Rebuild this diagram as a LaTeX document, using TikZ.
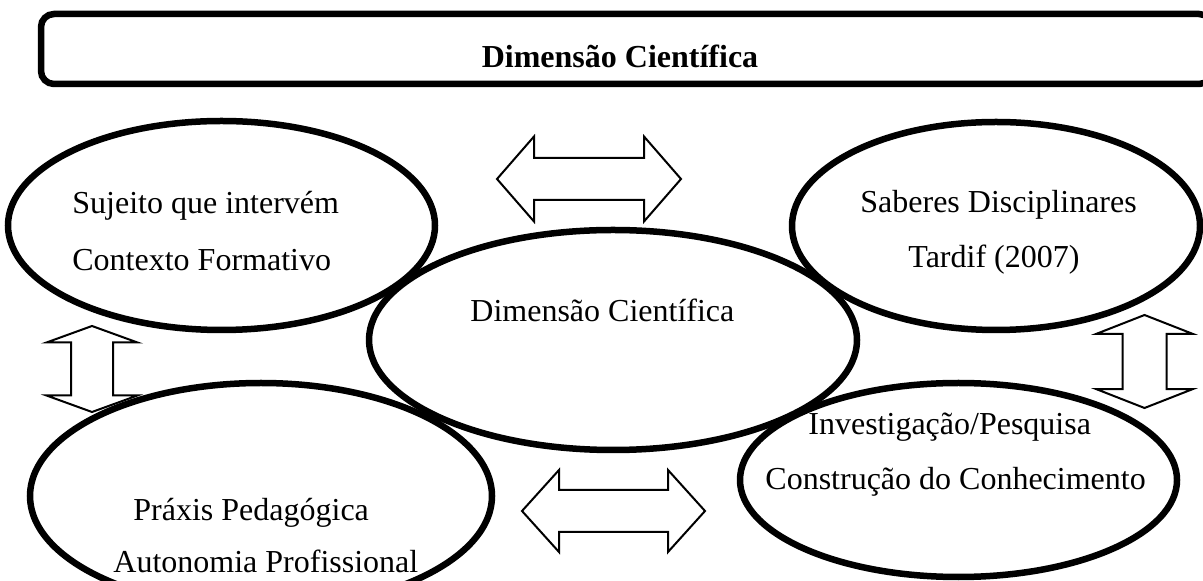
\documentclass[tikz,border=0pt]{standalone}
\usepackage{fontspec}
\setmainfont{Liberation Serif}
\usetikzlibrary{shapes.geometric}
\newdimen\px \px=0.5pt
\tikzset{
  bubble/.style={draw, ellipse, line width=6.5\px, inner sep=0pt},
  txt/.style={inner sep=0pt, anchor=base west, font=\fontsize{32\px}{38\px}\selectfont},
  headbox/.style={draw, line width=6.5\px, rounded corners=13\px},
  blockarrow/.style={draw, line width=2\px, fill=white},
  % double block arrow: total length / head length / head width / shaft width
  pics/dblarrow/.style args={#1/#2/#3/#4}{code={
    \path[blockarrow]
      ({-#1/2},0) -- ({-#1/2+#2},{-#3/2}) -- ({-#1/2+#2},{-#4/2})
      -- ({#1/2-#2},{-#4/2}) -- ({#1/2-#2},{-#3/2}) -- ({#1/2},0)
      -- ({#1/2-#2},{#3/2}) -- ({#1/2-#2},{#4/2})
      -- ({-#1/2+#2},{#4/2}) -- ({-#1/2+#2},{#3/2}) -- cycle;
  }},
}
\begin{document}
\begin{tikzpicture}[x=1\px, y=-1\px]
\useasboundingbox (0,0) rectangle (1203,581);

% heading bar
\draw[headbox] (41,14) rectangle (1212,84);
\node[inner sep=0pt, anchor=base, font=\fontsize{32\px}{38\px}\selectfont\bfseries] (title) at (620,68) {Dimensão Científica};

% ellipses
\node[bubble, minimum width=427\px, minimum height=209\px] (tl) at (221.5,225.5) {};
\node[bubble, minimum width=408\px, minimum height=208\px] (tr) at (996,226) {};
\node[bubble, minimum width=462\px, minimum height=226\px] (bl) at (261,496) {};
\node[bubble, minimum width=437\px, minimum height=194\px] (br) at (958.5,480) {};
\node[bubble, minimum width=488\px, minimum height=220\px] (c) at (613,340) {};

% texts
\node[txt] (tl1) at (72,214) {Sujeito que intervém};
\node[txt] (tl2) at (72,271) {Contexto Formativo};
\node[txt] (tr1) at (860,213) {Saberes Disciplinares};
\node[txt] (tr2) at (908,268) {Tardif (2007)};
\node[txt] (c1) at (470,322) {Dimensão Científica};
\node[txt] (br1) at (808,435) {Investigação/Pesquisa};
\node[txt] (br2) at (765,490) {Construção do Conhecimento};
\node[txt] (bl1) at (133,521) {Práxis Pedagógica};
\node[txt] (bl2) at (113,573) {Autonomia Profissional};

% block arrows
\pic at (589,179) {dblarrow={184/37/85/42}};
\pic at (613.5,511) {dblarrow={183/37/82/42}};
\pic[rotate=90] at (92,369) {dblarrow={86/16.5/91/42}};
\pic[rotate=90] at (1144.5,361.5) {dblarrow={93/18.8/96/44}};
\end{tikzpicture}
\end{document}
